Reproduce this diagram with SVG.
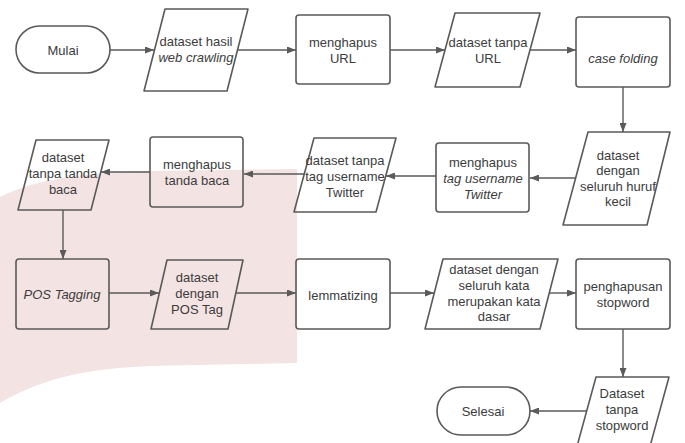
<svg xmlns="http://www.w3.org/2000/svg" width="685" height="443" viewBox="0 0 685 443">
<defs>
<style>
.s{fill:none;stroke:#5a5a5a;stroke-width:1.6;stroke-linejoin:round}
.t{font-family:"Liberation Sans",Arial,sans-serif;font-size:13px;fill:#3c3c3c;text-anchor:middle;dominant-baseline:central}
.i{font-style:italic}
.c{fill:none;stroke:#5a5a5a;stroke-width:1.4}
</style>
<marker id="ah" markerWidth="9" markerHeight="7" refX="9" refY="3.5" orient="auto" markerUnits="userSpaceOnUse">
<path d="M0,0 L9,3.5 L0,7 z" fill="#5a5a5a"/>
</marker>
</defs>
<rect width="685" height="443" fill="#ffffff"/>
<path d="M0,197 C30,182 70,173 150,171 L297,169 L297,363 L150,366 C80,369 40,380 0,403 Z" fill="#f4e3e3"/>

<g id="connectors">
<line class="c" x1="110" y1="50" x2="154" y2="50" marker-end="url(#ah)"/>
<line class="c" x1="238" y1="50" x2="296" y2="50" marker-end="url(#ah)"/>
<line class="c" x1="390" y1="50" x2="445" y2="50" marker-end="url(#ah)"/>
<line class="c" x1="530" y1="50" x2="576" y2="50" marker-end="url(#ah)"/>
<line class="c" x1="623" y1="87" x2="623" y2="132" marker-end="url(#ah)"/>
<line class="c" x1="576" y1="178" x2="530" y2="178" marker-end="url(#ah)"/>
<line class="c" x1="436" y1="176" x2="386" y2="176" marker-end="url(#ah)"/>
<line class="c" x1="304" y1="174" x2="244" y2="174" marker-end="url(#ah)"/>
<line class="c" x1="150" y1="172" x2="101" y2="172" marker-end="url(#ah)"/>
<line class="c" x1="63" y1="210" x2="63" y2="259" marker-end="url(#ah)"/>
<line class="c" x1="109" y1="293" x2="159" y2="293" marker-end="url(#ah)"/>
<line class="c" x1="236" y1="293" x2="296" y2="293" marker-end="url(#ah)"/>
<line class="c" x1="390" y1="293" x2="434" y2="293" marker-end="url(#ah)"/>
<line class="c" x1="549" y1="293" x2="576" y2="293" marker-end="url(#ah)"/>
<line class="c" x1="623" y1="329" x2="623" y2="377" marker-end="url(#ah)"/>
<line class="c" x1="587" y1="411" x2="530" y2="411" marker-end="url(#ah)"/>
</g>

<g id="mulai">
<rect class="s" x="16" y="26" width="94" height="47" rx="23.5"/>
<text class="t" x="63" y="50">Mulai</text>
</g>
<g id="dataset-hasil">
<polygon class="s" points="165,9 248,9 227,91 144,91"/>
<text class="t" x="196" y="41">dataset hasil</text>
<text class="t i" x="196" y="57">web crawling</text>
</g>
<g id="hapus-url">
<rect class="s" x="296" y="15" width="94" height="69" rx="3"/>
<text class="t" x="343" y="42">menghapus</text>
<text class="t" x="343" y="58">URL</text>
</g>
<g id="dataset-tanpa-url">
<polygon class="s" points="455,13 540,13 520,87 435,87"/>
<text class="t" x="488" y="42">dataset tanpa</text>
<text class="t" x="488" y="58">URL</text>
</g>
<g id="case-folding">
<rect class="s" x="576" y="17" width="94" height="70" rx="3"/>
<text class="t i" x="623" y="58">case folding</text>
</g>
<g id="dataset-huruf-kecil">
<polygon class="s" points="588,132 670,132 647,225 563,225"/>
<text class="t" x="618" y="155">dataset</text>
<text class="t" x="618" y="170">dengan</text>
<text class="t" x="618" y="186">seluruh huruf</text>
<text class="t" x="618" y="201">kecil</text>
</g>
<g id="hapus-tag">
<rect class="s" x="436" y="143" width="93" height="69" rx="3"/>
<text class="t" x="483" y="162">menghapus</text>
<text class="t i" x="483" y="178">tag username</text>
<text class="t i" x="483" y="194">Twitter</text>
</g>
<g id="dataset-tanpa-tag">
<polygon class="s" points="314,138 396,138 376,212 294,212"/>
<text class="t" x="345" y="160">dataset tanpa</text>
<text class="t" x="345" y="176">tag username</text>
<text class="t" x="345" y="192">Twitter</text>
</g>
<g id="hapus-tanda-baca">
<rect class="s" x="150" y="137" width="93" height="70" rx="3"/>
<text class="t" x="197" y="164">menghapus</text>
<text class="t" x="197" y="180">tanda baca</text>
</g>
<g id="dataset-tanpa-tanda-baca">
<polygon class="s" points="36,140 109,140 91,210 18,210"/>
<text class="t" x="63" y="157">dataset</text>
<text class="t" x="63" y="173">tanpa tanda</text>
<text class="t" x="63" y="189">baca</text>
</g>
<g id="pos-tagging">
<rect class="s" x="16" y="259" width="93" height="70" rx="3"/>
<text class="t i" x="62" y="294">POS Tagging</text>
</g>
<g id="dataset-pos-tag">
<polygon class="s" points="167,260 243,260 228,329 151,329"/>
<text class="t" x="197" y="277">dataset</text>
<text class="t" x="197" y="293">dengan</text>
<text class="t" x="197" y="309">POS Tag</text>
</g>
<g id="lemmatizing">
<rect class="s" x="296" y="259" width="94" height="70" rx="3"/>
<text class="t" x="343" y="295">lemmatizing</text>
</g>
<g id="dataset-kata-dasar">
<polygon class="s" points="443,259 558,259 540,329 425,329"/>
<text class="t" x="494" y="269">dataset dengan</text>
<text class="t" x="494" y="285">seluruh kata</text>
<text class="t" x="494" y="301">merupakan kata</text>
<text class="t" x="494" y="316">dasar</text>
</g>
<g id="hapus-stopword">
<rect class="s" x="576" y="259" width="94" height="70" rx="3"/>
<text class="t" x="623" y="286">penghapusan</text>
<text class="t" x="623" y="302">stopword</text>
</g>
<g id="dataset-tanpa-stopword">
<polygon class="s" points="596,377 669,377 649,450 576,450"/>
<text class="t" x="622" y="393">Dataset</text>
<text class="t" x="622" y="409">tanpa</text>
<text class="t" x="622" y="425">stopword</text>
</g>
<g id="selesai">
<rect class="s" x="437" y="387" width="93" height="48" rx="24"/>
<text class="t" x="483" y="411">Selesai</text>
</g>
</svg>
